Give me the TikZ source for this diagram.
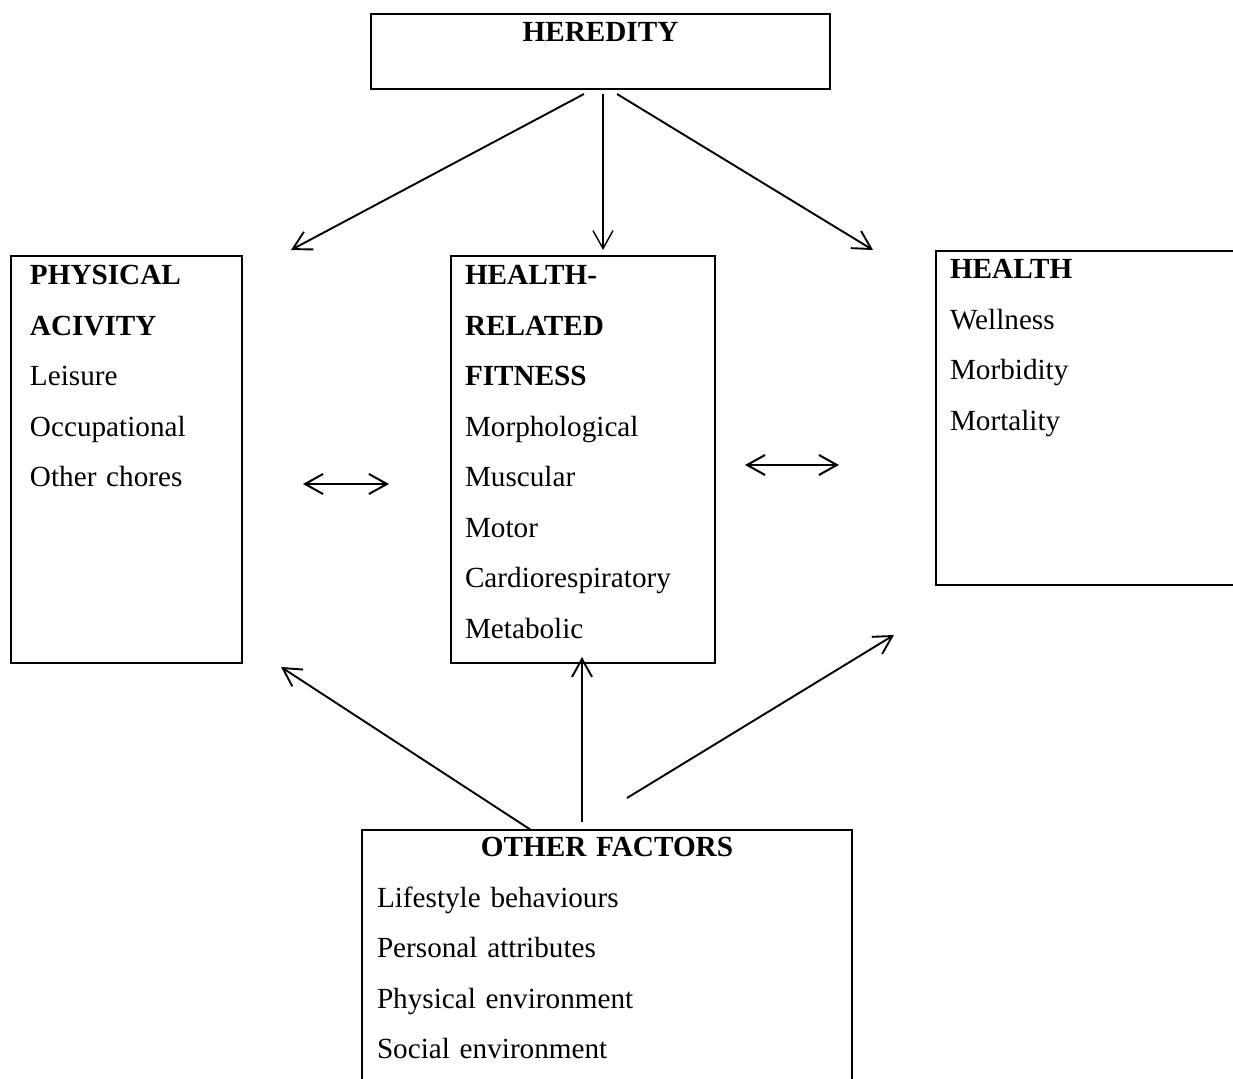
\documentclass[tikz,border=0pt]{standalone}
\usepackage{fontspec}
\setmainfont{Liberation Serif}
\usetikzlibrary{arrows.meta,positioning}

\begin{document}
\begin{tikzpicture}[
  x=0.5pt, y=-0.5pt,
  font=\fontsize{14.6}{25.25}\selectfont,
  box/.style={rectangle, draw=black, line width=1pt, anchor=north west,
              inner ysep=0pt, outer sep=0pt, align=left},
  arr/.style={-{Straight Barb[length=9pt,width=10pt]}, line width=0.95pt},
  dbl/.style={{Straight Barb[length=9pt,width=10pt]}-{Straight Barb[length=9pt,width=10pt]}, line width=1pt},
]
  \useasboundingbox (0,0) rectangle (1233,1079);
  %% Top: heredity
  \node[box, align=center, inner xsep=0pt, text width=229.5pt,
        text height=14pt, text depth=23.5pt] (heredity) at (371,14)
       {\textbf{HEREDITY}};
  %% Middle row
  \node[box, inner xsep=9.5pt, text width=96.5pt,
        text height=14.5pt, text depth=189pt] (activity) at (11,256)
       {\textbf{PHYSICAL}\\ \textbf{ACIVITY}\\ Leisure\\ Occupational\\ Other chores};
  \node[box, right=104.5pt of activity.north east, anchor=north west,
        inner xsep=7pt, text width=118pt,
        text height=14.5pt, text depth=189pt] (fitness)
       {\textbf{HEALTH-}\\ \textbf{RELATED}\\ \textbf{FITNESS}\\ Morphological\\ Muscular\\
        Motor\\ Cardiorespiratory\\ Metabolic};
  \node[box, inner xsep=7pt, text width=140.5pt,
        text height=14pt, text depth=153pt] (health) at (936,251)
       {\textbf{HEALTH}\\ Wellness\\ Morbidity\\ Mortality};
  %% Bottom: other factors
  \node[box, inner xsep=7.5pt, text width=230pt,
        text height=13.5pt, text depth=119pt] (other) at (362,830)
       {\makebox[\linewidth]{\textbf{OTHER FACTORS}}\\ Lifestyle behaviours\\
        Personal attributes\\ Physical environment\\ Social environment};

  %% arrow ends
  \coordinate (hl) at (584,94);
  \coordinate (hm) at (603,94);
  \coordinate (hr) at (617,94);
  \coordinate (tl) at (291,250);
  \coordinate (tm) at (603,250);
  \coordinate (tr) at (873,250);
  \coordinate (ol) at (531,830);
  \coordinate (om) at (582,822);
  \coordinate (or) at (627,798);
  \coordinate (bl) at (281,667);
  \coordinate (bm) at (582,657);
  \coordinate (br) at (894,635);
  \coordinate (al) at (303,484);
  \coordinate (ar) at (389,484);
  \coordinate (fl) at (745,465);
  \coordinate (fr) at (839,465);

  \draw[arr] (hl) -- (tl);
  \draw[arr, line width=0.7pt] (hm) -- (tm);
  \draw[arr] (hr) -- (tr);
  \draw[arr] (ol) -- (bl);
  \draw[arr] (om) -- (bm);
  \draw[arr] (or) -- (br);
  \draw[dbl] (al) -- (ar);
  \draw[dbl] (fl) -- (fr);
\end{tikzpicture}
\end{document}
